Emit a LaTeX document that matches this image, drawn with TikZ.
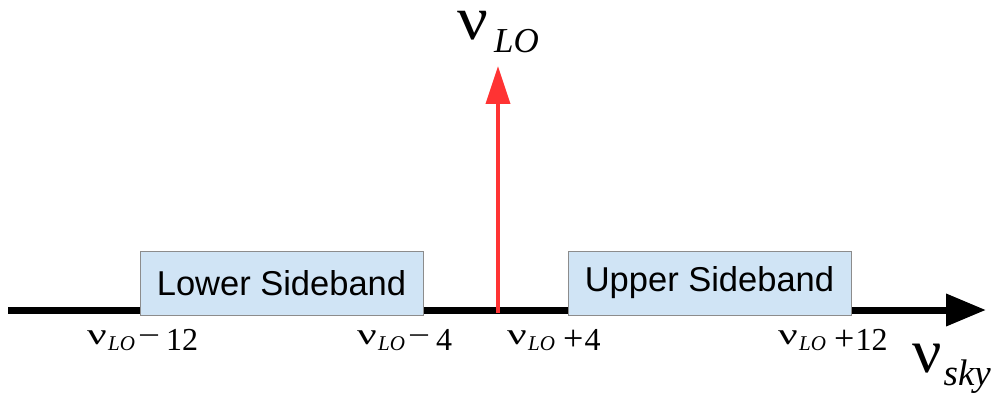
\documentclass[tikz,border=0pt]{standalone}
\usepackage{fontspec}
\setmainfont{Liberation Serif}
\newfontfamily\boxfont{Liberation Sans}
\usetikzlibrary{arrows.meta}
\definecolor{bandfill}{HTML}{D0E4F5}
\definecolor{bandline}{HTML}{8C8C8C}
\definecolor{lored}{HTML}{FF3333}
% nu_LO with a sign and a number, at fixed widths
\newcommand{\nuLOm}[1]{\raisebox{6pt}{\makebox[21pt][l]{\scalebox{1.45}[1]{ν}}}\makebox[27pt][l]{\fontsize{21}{21}\selectfont\itshape LO}\hspace{3pt}\raisebox{5pt}{\scalebox{1.3}[1]{−}}\hspace{6pt}{\fontsize{32}{32}\selectfont #1}}
\newcommand{\nuLOp}[1]{\raisebox{6pt}{\makebox[21pt][l]{\scalebox{1.45}[1]{ν}}}\makebox[27pt][l]{\fontsize{21}{21}\selectfont\itshape LO}\hspace{8pt}\scalebox{1.2}{+}\hspace{1pt}{\fontsize{32}{32}\selectfont #1}}
\begin{document}
\begin{tikzpicture}[x=1pt,y=-1pt,
  band/.style={draw=bandline, line width=1pt, fill=bandfill, minimum width=283pt, minimum height=64pt, inner sep=0pt, font=\boxfont\fontsize{34.5}{34.5}\selectfont},
  ticklbl/.style={anchor=base west, inner sep=0pt, font=\fontsize{30}{30}\selectfont},
  biglbl/.style={anchor=base west, inner sep=0pt, font=\fontsize{62}{62}\selectfont}]
\useasboundingbox (0,0) rectangle (997,393);
\coordinate (a0) at (8,310);
\coordinate (a1) at (986,310);
\draw[line width=7pt, -{Triangle[length=40pt,width=31pt]}] (a0) -- (a1);
\node[band] (lsb) at (281.5,283) {Lower Sideband};
\node[band] (usb) at (709.5,283) {Upper Sideband};
\coordinate (lo) at (498,313);
\coordinate (lotip) at (498,66);
\draw[lored, line width=4pt, -{Triangle[length=38pt,width=24pt]}] (lo) -- (lotip);
\node[biglbl] (nulo) at (457,40) {\scalebox{1.55}[1.4]{\fontsize{44}{44}\selectfont ν}\hspace{6pt}\raisebox{-13pt}{\fontsize{35}{35}\selectfont\itshape LO}};
\node[biglbl] (nusky) at (912,372) {\scalebox{1.05}[1]{ν}\hspace{2pt}\raisebox{-13pt}{\fontsize{37}{37}\selectfont\itshape sky}};
\node[ticklbl] (t1) at (87,350) {\nuLOm{12}};
\node[ticklbl] (t2) at (357,350) {\nuLOm{4}};
\node[ticklbl] (t3) at (507,350) {\nuLOp{4}};
\node[ticklbl] (t4) at (778,350) {\nuLOp{12}};
\end{tikzpicture}
\end{document}
